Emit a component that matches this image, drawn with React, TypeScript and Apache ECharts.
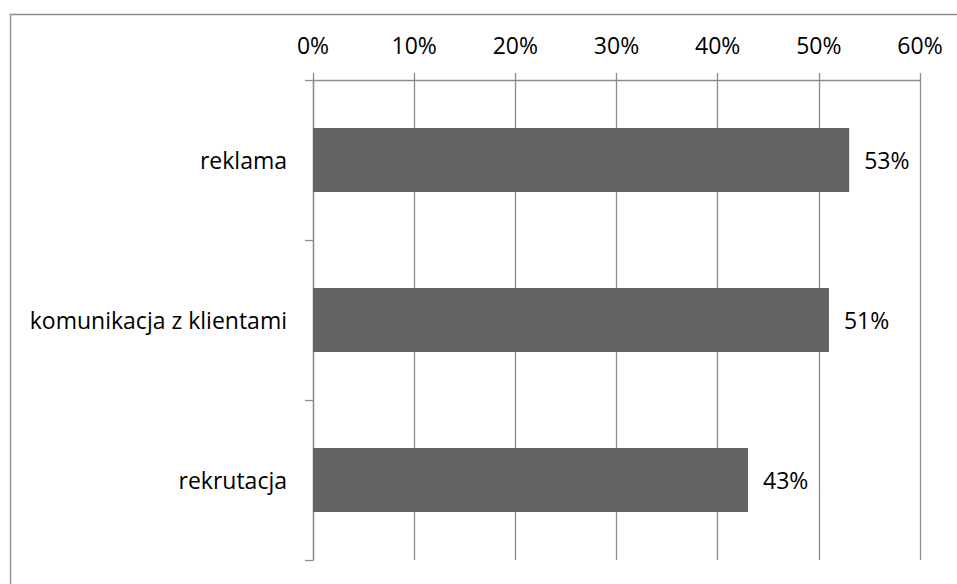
import React, { useEffect, useRef } from "react";
import * as echarts from "echarts";

const categories = ["reklama", "komunikacja z klientami", "rekrutacja"];
const values = [53, 51, 43];
const tickMax = 60;
const tickStep = 10;

export default function App() {
  const ref = useRef<HTMLDivElement>(null);
  useEffect(() => {
    if (!ref.current) return;
    const chart = echarts.init(ref.current, undefined, { renderer: "svg" });
    const font = "'Open Sans', sans-serif";
    const fs = 23;
    chart.setOption({
      animation: false,
      backgroundColor: "#ffffff",
      grid: { left: 313, right: 37, top: 80, bottom: 24, containLabel: false },
      graphic: [
        {
          type: "rect",
          shape: { x: 10.5, y: 14.5, width: 980, height: 620 },
          style: { fill: "none", stroke: "#8a8a8a", lineWidth: 1.3 },
          silent: true,
        },
      ],
      xAxis: {
        type: "value",
        position: "top",
        min: 0,
        max: tickMax,
        interval: tickStep,
        axisLine: { show: true, lineStyle: { color: "#8c8c8c", width: 1.3 } },
        axisTick: { show: true, length: 7, lineStyle: { color: "#8c8c8c", width: 1.3 } },
        splitLine: { show: true, lineStyle: { color: "#8c8c8c", width: 1.3 } },
        axisLabel: {
          formatter: "{value}%",
          color: "#000",
          fontSize: fs,
          fontFamily: font,
          margin: 24,
        },
      },
      yAxis: {
        type: "category",
        data: categories,
        inverse: true,
        axisLine: { show: true, lineStyle: { color: "#8c8c8c", width: 1.3 } },
        axisTick: { show: true, length: 8, lineStyle: { color: "#8c8c8c", width: 1.3 } },
        axisLabel: {
          color: "#000",
          fontSize: fs,
          fontFamily: font,
          margin: 26,
        },
      },
      series: [
        {
          type: "bar",
          data: values,
          barWidth: "40%",
          itemStyle: { color: "#636363" },
          label: {
            show: true,
            position: "right",
            distance: 15,
            formatter: "{c}%",
            color: "#000",
            fontSize: fs,
            fontFamily: font,
          },
        },
      ],
    });
    return () => chart.dispose();
  }, []);
  return (
    <div
      ref={ref}
      style={{ position: "fixed", left: 0, top: 0, width: 957, height: 584 }}
    />
  );
}
